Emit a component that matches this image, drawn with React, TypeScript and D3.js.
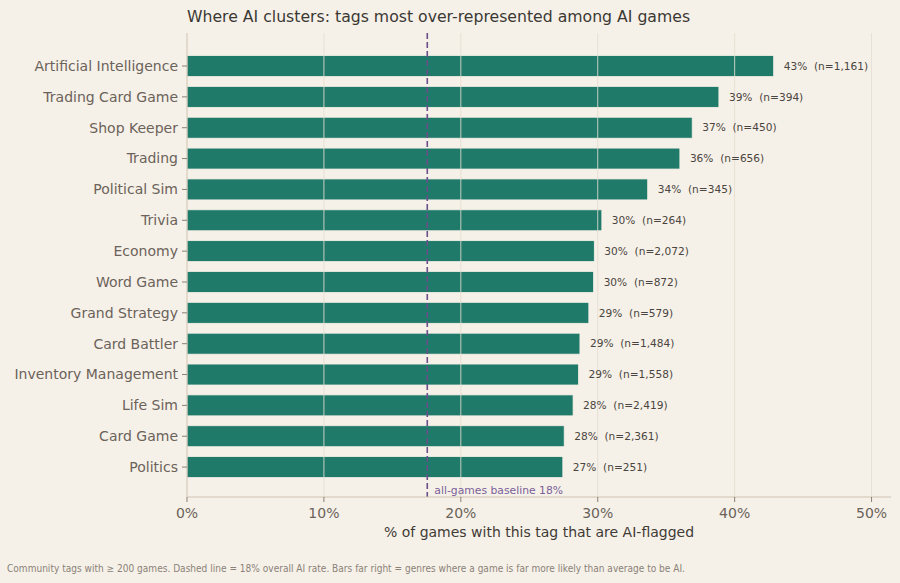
import React from 'react';
import * as d3 from 'd3';

const tags = [
  'Artificial Intelligence',
  'Trading Card Game',
  'Shop Keeper',
  'Trading',
  'Political Sim',
  'Trivia',
  'Economy',
  'Word Game',
  'Grand Strategy',
  'Card Battler',
  'Inventory Management',
  'Life Sim',
  'Card Game',
  'Politics',
];
const aiShare = [42.85, 38.85, 36.9, 36.0, 33.65, 30.3, 29.75, 29.7, 29.35, 28.7, 28.6, 28.2, 27.55, 27.45];
const counts = [1161, 394, 450, 656, 345, 264, 2072, 872, 579, 1484, 1558, 2419, 2361, 251];
const baseline = 17.55;
const xTicks = [0, 10, 20, 30, 40, 50];

const W = 900;
const H = 583;
const margin = { left: 187, right: 9, top: 33, bottom: 86 };
const font = '"DejaVu Sans", Verdana, sans-serif';
const bg = '#f6f1e8';

const App = () => {
  const x = d3
    .scaleLinear()
    .domain([0, d3.max(aiShare)! * 1.2])
    .range([margin.left, W - margin.right]);

  const y = d3
    .scaleBand<string>()
    .domain(tags)
    .range([50.6, 482.5])
    .paddingInner(0.32)
    .paddingOuter(0.16);

  const yTop = margin.top;
  const yBot = H - margin.bottom;
  const fmt = d3.format(',');

  React.useEffect(() => {
    document.body.style.margin = '0';
    document.body.style.background = bg;
  }, []);

  return (
    <svg
      width={W}
      height={H}
      style={{ display: 'block', position: 'fixed', left: 0, top: 0, background: bg }}
    >
      <rect width={W} height={H} fill={bg} />
      <text x={margin.left} y={22} fontFamily={font} fontSize={15.7} fill="#3b3834">
        Where AI clusters: tags most over-represented among AI games
      </text>

      {tags.map((t, i) => (
        <rect
          key={t}
          x={x(0)}
          y={y(t)!}
          width={x(aiShare[i]) - x(0)}
          height={y.bandwidth()}
          fill="#1f7a6a"
          stroke={bg}
          strokeWidth={0.8}
        />
      ))}

      {xTicks.slice(1).map((v) => (
        <line key={v} x1={x(v)} x2={x(v)} y1={yTop} y2={yBot} stroke="#e4ddd1" strokeOpacity={0.85} strokeWidth={1} />
      ))}

      <line
        x1={x(baseline)}
        x2={x(baseline)}
        y1={yTop}
        y2={yBot}
        stroke="#6b4f8a"
        strokeWidth={1.6}
        strokeDasharray="6 3"
      />
      <text x={x(baseline) + 7} y={yBot - 3} fontFamily={font} fontSize={10.8} fill="#7a5f99">
        all-games baseline 18%
      </text>

      {tags.map((t, i) => (
        <text
          key={t}
          x={x(aiShare[i]) + 10}
          y={y(t)! + y.bandwidth() / 2}
          dy="0.35em"
          fontFamily={font}
          fontSize={10.6}
          fill="#4a4540"
          style={{ whiteSpace: 'pre' }}
        >
          {`${Math.round(aiShare[i])}%  (n=${fmt(counts[i])})`}
        </text>
      ))}

      <line x1={margin.left} x2={margin.left} y1={yTop} y2={yBot} stroke="#cfc3b2" strokeWidth={1} />
      <line x1={margin.left} x2={W - margin.right} y1={yBot} y2={yBot} stroke="#cfc3b2" strokeWidth={1} />

      {tags.map((t) => {
        const cy = y(t)! + y.bandwidth() / 2;
        return (
          <g key={t}>
            <line x1={margin.left - 5} x2={margin.left} y1={cy} y2={cy} stroke="#8a7f74" />
            <text
              x={margin.left - 9}
              y={cy}
              dy="0.35em"
              textAnchor="end"
              fontFamily={font}
              fontSize={14}
              fill="#6b625a"
            >
              {t}
            </text>
          </g>
        );
      })}

      {xTicks.map((v) => (
        <g key={v}>
          <line x1={x(v)} x2={x(v)} y1={yBot} y2={yBot + 5} stroke="#8a7f74" />
          <text x={x(v)} y={yBot + 21} textAnchor="middle" fontFamily={font} fontSize={14} fill="#6b625a">
            {`${v}%`}
          </text>
        </g>
      ))}

      <text
        x={(margin.left + W - margin.right) / 2}
        y={537}
        textAnchor="middle"
        fontFamily={font}
        fontSize={14}
        fill="#3f3a36"
      >
        % of games with this tag that are AI-flagged
      </text>

      <text
        x={7}
        y={572}
        fontFamily={font}
        fontSize={10}
        fill="#8a8178"
        textLength={678}
        lengthAdjust="spacingAndGlyphs"
      >
        Community tags with ≥ 200 games. Dashed line = 18% overall AI rate. Bars far right = genres where a game is far more likely than average to be AI.
      </text>
    </svg>
  );
};

export default App;
